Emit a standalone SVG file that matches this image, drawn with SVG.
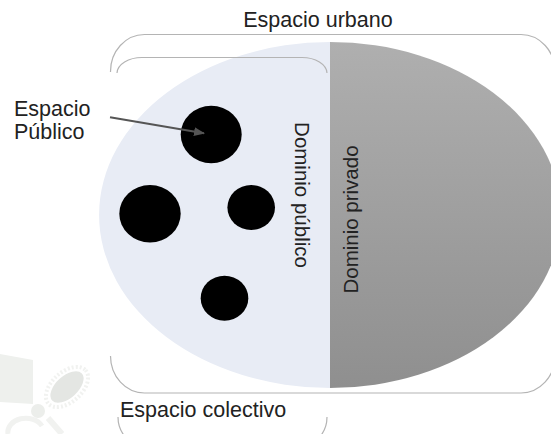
<svg xmlns="http://www.w3.org/2000/svg" width="551" height="434" viewBox="0 0 551 434">
  <style>
    .lbl { font-family: "Liberation Sans", Arial, sans-serif; font-size: 21.5px; fill: #222; }
    .vlbl { font-family: "Liberation Sans", Arial, sans-serif; font-size: 20.5px; fill: #222; }
    .brk { fill: none; stroke: #b4b4b4; stroke-width: 1.2; }
    .dot { fill: #000; }
    .wm { fill: #eef0ed; }
  </style>
  <defs>
    <linearGradient id="grayGrad" x1="0" y1="0" x2="0" y2="1">
      <stop offset="0" stop-color="#afafaf"/>
      <stop offset="1" stop-color="#8f8f8f"/>
    </linearGradient>
    <marker id="arrow" markerWidth="11" markerHeight="9" refX="10" refY="4.5" orient="auto" markerUnits="userSpaceOnUse">
      <path d="M0,0 L11,4.5 L0,9 Z" fill="#555"/>
    </marker>
  </defs>
  <rect width="551" height="434" fill="#fff"/>

  <g id="watermark">
    <path class="wm" d="M0,354 L33,360 L33,404 L0,402 Z"/>
    <ellipse cx="67" cy="387" rx="25" ry="15" transform="rotate(-42 67 387)" fill="none" stroke="#f1f2f0" stroke-width="4" stroke-dasharray="2 2"/>
    <ellipse cx="67" cy="387" rx="20" ry="11" transform="rotate(-42 67 387)" fill="#e4e6e3"/>
    <circle cx="38" cy="411" r="7" fill="#eceeeb"/>
    <path d="M8,434 A18,14 0 0 1 42,426" fill="none" stroke="#f1f2f0" stroke-width="5"/>
    <path d="M48,418 L62,434" stroke="#f1f2f0" stroke-width="6"/>
  </g>

  <g id="dominio-publico-shape">
    <path d="M330,42 A231,173 0 0 0 330,388 Z" fill="#e8ecf5"/>
  </g>
  <g id="dominio-privado-shape">
    <path d="M330,42 A231,173 0 0 1 330,388 Z" fill="url(#grayGrad)"/>
  </g>

  <g id="espacio-urbano">
    <path class="brk" d="M110.5,72 A34,37 0 0 1 144.5,34.5 L521,34.5 A34,37 0 0 1 555,72"/>
    <path class="brk" d="M110.5,356 A34,37 0 0 0 144.5,393 L521,393 A34,37 0 0 0 555,356"/>
    <text class="lbl" x="318" y="27" text-anchor="middle">Espacio urbano</text>
  </g>

  <g id="espacio-colectivo">
    <path class="brk" d="M117,73 A25,16 0 0 1 142,57.5 L302,57.5 A25,16 0 0 1 327,73"/>
    <path class="brk" d="M118,417 A31,31 0 0 0 149,448 L296,448 A31,31 0 0 0 327,417"/>
    <text class="lbl" x="120" y="417">Espacio colectivo</text>
  </g>

  <g id="espacios-publicos">
    <ellipse class="dot" cx="211.2" cy="134.5" rx="30.5" ry="28.8"/>
    <ellipse class="dot" cx="150" cy="213.7" rx="30.7" ry="28.7"/>
    <ellipse class="dot" cx="251.2" cy="207.5" rx="23.8" ry="22.5"/>
    <ellipse class="dot" cx="224.5" cy="298.2" rx="23.8" ry="22.5"/>
  </g>

  <g id="label-espacio-publico">
    <text class="lbl" x="14" y="116">Espacio</text>
    <text class="lbl" x="14" y="139">Público</text>
  </g>

  <g id="label-dominio-publico">
    <text class="vlbl" transform="translate(294.5,195) rotate(90)" text-anchor="middle">Dominio público</text>
  </g>
  <g id="label-dominio-privado">
    <text class="vlbl" transform="translate(358,219.5) rotate(-90)" text-anchor="middle">Dominio privado</text>
  </g>

  <g id="connectors">
    <line x1="110" y1="117.3" x2="204" y2="133.3" stroke="#555" stroke-width="2" marker-end="url(#arrow)"/>
  </g>
</svg>
